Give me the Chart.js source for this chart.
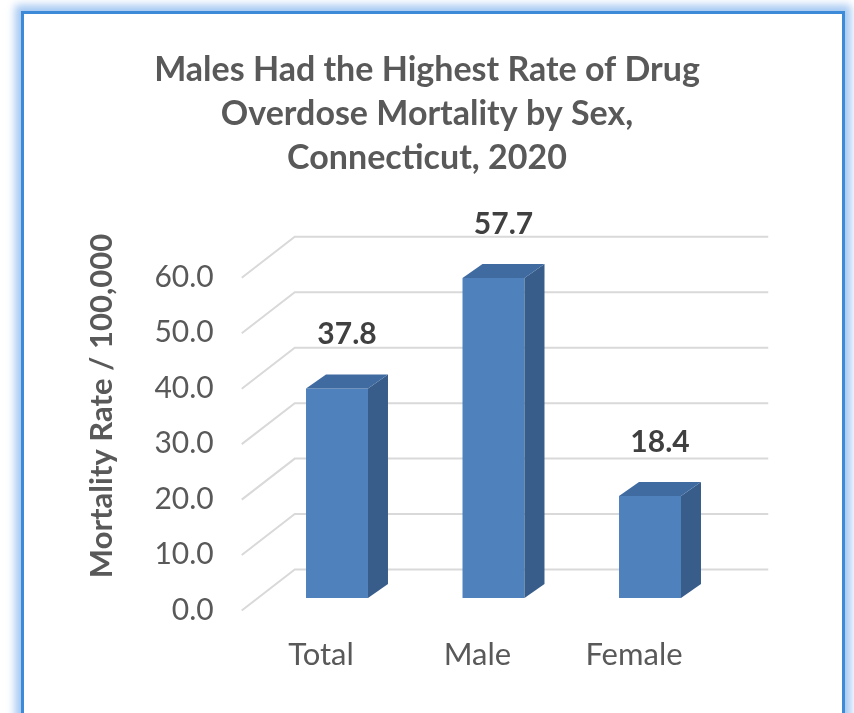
<!DOCTYPE html>
<html>
<head>
<meta charset="utf-8">
<title>Drug Overdose Mortality by Sex, Connecticut, 2020</title>
<script src="https://cdn.jsdelivr.net/npm/chart.js@4.4.1/dist/chart.umd.min.js"></script>
<style>
  html, body { margin: 0; padding: 0; background: #ffffff; }
  body { width: 854px; height: 713px; position: relative; overflow: hidden; }
  .frame {
    position: absolute; left: 21px; top: 11px; width: 818px; height: 700px;
    border: 3px solid #3d8ad9; background: #ffffff;
    box-shadow: 0 0 8px 6px rgba(150, 192, 240, 0.85);
  }
  #chartWrap { position: absolute; left: 0; top: 0; width: 854px; height: 713px; }
</style>
</head>
<body>
<div class="frame"></div>
<div id="chartWrap"><canvas id="overdoseChart" width="854" height="713"></canvas></div>
<script>
// ==================== DATA ====================
const categories = ['Total', 'Male', 'Female'];
const mortalityRates = [37.8, 57.7, 18.4];
const yTickValues = [0, 10, 20, 30, 40, 50, 60];
const titleLines = ['Males Had the Highest Rate of Drug', 'Overdose Mortality by Sex,', 'Connecticut, 2020'];
const yAxisTitle = 'Mortality Rate / 100,000';

const FONT = "Lato, 'Open Sans', sans-serif";
const TEXT_GRAY = '#595959';

// depth of the 3D bars (px)
const DEPTH_X = 20;
const DEPTH_Y = 14;

// back wall grid, drawn before the bars
const wallGridPlugin = {
    id: 'wallGrid',
    beforeDatasetsDraw(chart) {
        const { ctx, chartArea, scales } = chart;
        const yScale = scales.y;
        ctx.save();
        ctx.strokeStyle = '#d9d9d9';
        ctx.lineWidth = 2;
        yTickValues.forEach(v => {
            const yb = yScale.getPixelForValue(v);
            const yFront = yb + 12.5;
            const yBack = yb - 28.5;
            ctx.beginPath();
            ctx.moveTo(chartArea.left - 17, yFront);
            ctx.lineTo(chartArea.left + 36, yBack);
            ctx.lineTo(chartArea.right + 40, yBack);
            ctx.stroke();
        });
        ctx.restore();
    }
};

// side and top faces of each bar, plus value labels
const barDepthPlugin = {
    id: 'barDepth',
    afterDatasetsDraw(chart) {
        const { ctx } = chart;
        const meta = chart.getDatasetMeta(0);
        ctx.save();
        meta.data.forEach((bar, i) => {
            const left = bar.x - bar.width / 2;
            const right = bar.x + bar.width / 2;
            const top = bar.y;
            const base = bar.base;

            // right side
            ctx.fillStyle = '#385d8a';
            ctx.beginPath();
            ctx.moveTo(right, top);
            ctx.lineTo(right + DEPTH_X, top - DEPTH_Y);
            ctx.lineTo(right + DEPTH_X, base - DEPTH_Y);
            ctx.lineTo(right, base);
            ctx.closePath();
            ctx.fill();

            // top
            ctx.fillStyle = '#3f6ba1';
            ctx.beginPath();
            ctx.moveTo(left, top);
            ctx.lineTo(left + DEPTH_X, top - DEPTH_Y);
            ctx.lineTo(right + DEPTH_X, top - DEPTH_Y);
            ctx.lineTo(right, top);
            ctx.closePath();
            ctx.fill();

            // value label
            ctx.fillStyle = '#404040';
            ctx.font = 'bold 30px ' + FONT;
            ctx.textAlign = 'center';
            ctx.textBaseline = 'middle';
            ctx.fillText(mortalityRates[i].toFixed(1), bar.x + DEPTH_X / 2, top - 54);
        });
        ctx.restore();
    }
};

// rotated y axis title
const yTitlePlugin = {
    id: 'yTitle',
    afterDraw(chart) {
        const { ctx } = chart;
        ctx.save();
        ctx.translate(102, 406);
        ctx.rotate(-Math.PI / 2);
        ctx.fillStyle = TEXT_GRAY;
        ctx.font = 'bold 31px ' + FONT;
        ctx.textAlign = 'center';
        ctx.textBaseline = 'middle';
        ctx.fillText(yAxisTitle, 0, 0);
        ctx.restore();
    }
};

// ==================== CHART ====================
const ctx = document.getElementById('overdoseChart');

new Chart(ctx, {
    type: 'bar',
    data: {
        labels: categories,
        datasets: [{
            label: 'Mortality Rate / 100,000',
            data: mortalityRates,
            backgroundColor: '#4f81bd',
            borderWidth: 0,
            categoryPercentage: 1.0,
            barPercentage: 0.396
        }]
    },
    options: {
        responsive: false,
        animation: false,
        events: [],
        layout: {
            padding: { left: 0, top: 0, right: 0, bottom: 45 }
        },
        plugins: {
            legend: { display: false },
            tooltip: { enabled: false },
            title: {
                display: true,
                text: titleLines,
                color: TEXT_GRAY,
                font: { family: FONT, size: 34, weight: 'bold', lineHeight: 1.3 },
                padding: { top: 48, bottom: 84.7 }
            }
        },
        scales: {
            x: {
                grid: { display: false, drawTicks: false },
                border: { display: false },
                ticks: {
                    color: TEXT_GRAY,
                    font: { family: FONT, size: 31 },
                    padding: 38,
                    labelOffset: -16
                },
                afterFit(scale) { scale.height = 70; }
            },
            y: {
                min: 0,
                max: 60,
                grid: { display: false, drawTicks: false },
                border: { display: false },
                ticks: {
                    stepSize: 10,
                    color: TEXT_GRAY,
                    font: { family: FONT, size: 30 },
                    padding: 45,
                    labelOffset: 12,
                    callback: v => v.toFixed(1)
                },
                afterFit(scale) { scale.width = 258.75; }
            },
            // empty spacer on the right so the plot sits left of centre
            spacer: {
                type: 'linear',
                position: 'right',
                grid: { display: false, drawTicks: false },
                border: { display: false },
                ticks: { display: false },
                afterFit(scale) { scale.width = 125.75; }
            }
        }
    },
    plugins: [wallGridPlugin, barDepthPlugin, yTitlePlugin]
});
</script>
</body>
</html>
